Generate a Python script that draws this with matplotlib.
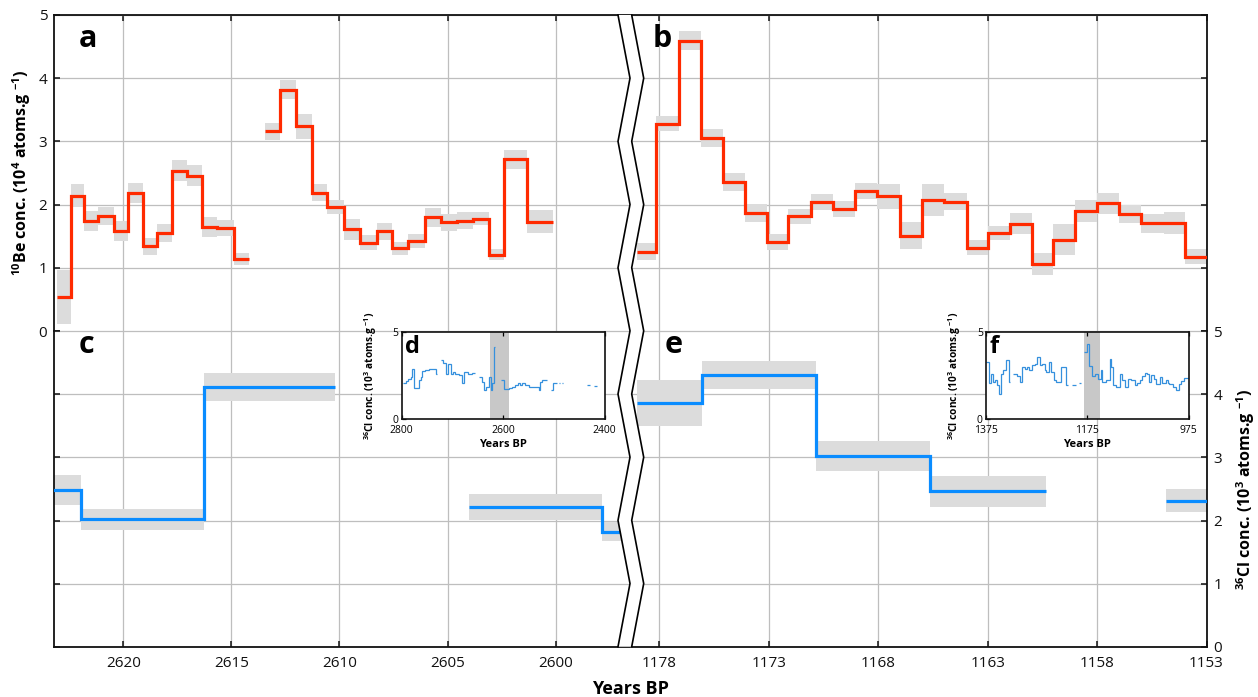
import numpy as np
import matplotlib
matplotlib.use("Agg")
import matplotlib.pyplot as plt
from matplotlib.patches import Polygon

plt.rcParams['font.family'] = ['Open Sans', 'DejaVu Sans']
plt.rcParams['mathtext.fontset'] = 'custom'
plt.rcParams['mathtext.rm'] = 'Open Sans'
plt.rcParams['mathtext.bf'] = 'Open Sans:bold'
plt.rcParams['mathtext.it'] = 'Open Sans:italic'

# ---------------- data ----------------
# panel a: 10Be (10^4 atoms/g), step edges in years BP
a_edges = [2623.08, 2622.44, 2621.83, 2621.15, 2620.42, 2619.78, 2619.10, 2618.44,
           2617.75, 2617.07, 2616.36, 2615.66, 2614.87, 2614.19, 2613.46, 2612.73,
           2612.00, 2611.26, 2610.57, 2609.80, 2609.03, 2608.28, 2607.55, 2606.81,
           2606.04, 2605.31, 2604.58, 2603.81, 2603.06, 2602.38, 2601.32, 2600.13]
a_vals = [0.54, 2.14, 1.74, 1.82, 1.58, 2.19, 1.34, 1.55, 2.54, 2.46, 1.65, 1.63, 1.14,
          np.nan, 3.16, 3.82, 3.24, 2.19, 1.96, 1.61, 1.40, 1.58, 1.31, 1.42, 1.80,
          1.72, 1.75, 1.78, 1.21, 2.72, 1.73]
a_errs = [0.43, 0.18, 0.16, 0.14, 0.16, 0.16, 0.13, 0.14, 0.16, 0.17, 0.16, 0.13, 0.09,
          np.nan, 0.13, 0.15, 0.20, 0.13, 0.11, 0.17, 0.12, 0.13, 0.10, 0.11, 0.15,
          0.13, 0.14, 0.10, 0.09, 0.15, 0.18]

# panel b: 10Be
b_edges = [1179.0, 1178.15, 1177.12, 1176.1, 1175.1, 1174.1, 1173.08, 1172.1, 1171.07,
           1170.05, 1169.06, 1168.06, 1167.01, 1166.01, 1164.98, 1163.96, 1162.97,
           1161.99, 1160.98, 1159.99, 1159.01, 1157.98, 1156.98, 1155.99, 1154.96,
           1153.98, 1152.9]
b_vals = [1.26, 3.28, 4.59, 3.05, 2.36, 1.87, 1.41, 1.82, 2.04, 1.93, 2.22, 2.13, 1.51,
          2.07, 2.05, 1.32, 1.55, 1.70, 1.06, 1.45, 1.90, 2.02, 1.85, 1.71, 1.71, 1.18]
b_errs = [0.14, 0.12, 0.15, 0.14, 0.14, 0.145, 0.13, 0.12, 0.13, 0.13, 0.13, 0.20, 0.21,
          0.25, 0.13, 0.12, 0.11, 0.17, 0.17, 0.25, 0.17, 0.16, 0.14, 0.15, 0.18, 0.12]

# panel c: 36Cl (10^3 atoms/g)
c_edges = [2623.4, 2621.94, 2616.26, 2610.2, 2604.0, 2597.84, 2596.5]
c_vals = [2.48, 2.02, 4.12, np.nan, 2.215, 1.82]
c_errs = [0.24, 0.165, 0.225, np.nan, 0.20, 0.15]

# panel e: 36Cl
e_edges = [1179.0, 1176.06, 1170.85, 1165.64, 1160.33, 1154.87, 1152.5]
e_vals = [3.86, 4.30, 3.02, 2.46, np.nan, 2.315]
e_errs = [0.36, 0.22, 0.24, 0.24, np.nan, 0.18]

# inset d: 36Cl long record
d_edges = [2798.0, 2790.2, 2786.3, 2781.7, 2779.7, 2775.2, 2765.4, 2762.1, 2758.8, 2753.6,
           2745.8, 2732.7, 2729.4, 2722.9, 2718.3, 2711.8, 2708.5, 2703.3, 2698.7, 2694.8,
           2686.9, 2681.7, 2677.1, 2668.6, 2660.8, 2655.6, 2647.7, 2641.2, 2637.9, 2633.3,
           2628.1, 2624.8, 2621.6, 2618.3, 2615.0, 2603.3, 2598.7, 2588.9, 2582.4, 2575.8,
           2570.6, 2566.0, 2562.7, 2557.5, 2549.7, 2530.1, 2526.8, 2523.5, 2513.7, 2505.2,
           2502.0, 2494.1, 2490.8, 2487.6, 2484.3, 2482.4, 2435.3, 2428.8, 2420.3, 2415.7]
d_vals = [2.09, 2.20, 2.32, 2.40, 2.89, 1.79, 2.23, 2.42, 2.75, 2.83,
          2.89, 2.57, np.nan, 3.40, 3.21, 2.60, 3.17, 2.60, 2.70, 2.60,
          2.51, 2.04, 2.70, 2.60, 2.62, np.nan, 2.42, 2.13, 1.66, 1.85,
          2.42, 1.66, 2.04, 4.11, np.nan, 2.23, 1.75, 1.79, 1.85, 1.94,
          2.09, 1.94, 2.09, 1.94, 1.85, 1.66, 2.13, 2.23, np.nan, 1.66,
          2.08, np.nan, 2.08, np.nan, 2.08, np.nan, 1.94, np.nan, 1.89]
d_band = [2625.0, 2588.0]

# inset f: 36Cl long record
f_edges = [1375.0, 1368.5, 1364.5, 1359.9, 1356.7, 1353.4, 1348.8, 1344.9, 1340.3, 1335.7,
           1329.2, 1327.2, 1320.7, 1312.8, 1307.6, 1303.6, 1297.8, 1293.2, 1289.2, 1282.7,
           1278.1, 1273.5, 1268.3, 1263.1, 1258.5, 1255.2, 1250.0, 1245.4, 1240.1, 1235.6,
           1230.3, 1225.7, 1217.2, 1212.6, 1204.1, 1197.6, 1191.0, 1186.5, 1181.9, 1179.0,
           1176.1, 1170.9, 1165.6, 1160.3, 1153.7, 1148.5, 1145.9, 1137.4, 1130.8, 1127.5,
           1124.3, 1119.0, 1111.2, 1106.1, 1101.4, 1094.8, 1088.3, 1081.7, 1077.1, 1071.9,
           1066.6, 1062.1, 1057.5, 1053.6, 1049.0, 1044.4, 1039.2, 1032.6, 1027.4, 1020.8,
           1016.3, 1013.0, 1006.4, 999.9, 994.6, 990.1, 983.5, 975.0]
f_vals = [3.26, 2.09, 2.60, 2.13, 2.23, 1.94, 1.43, 2.60, 2.79, 3.36,
          2.13, np.nan, 2.60, 2.47, 2.13, 2.98, 2.89, 2.98, 2.79, 3.08,
          3.17, 3.55, 3.08, 3.17, 2.79, 2.70, 3.26, 2.70, 2.23, 2.13,
          2.13, 2.98, 1.94, np.nan, 1.94, np.nan, 2.04, np.nan, 3.83, 3.86,
          4.30, 3.02, 2.46, 2.60, 2.32, 2.83, 2.13, 2.23, 3.45, 2.98,
          1.94, 1.85, 2.60, 2.26, 1.85, 2.32, 2.26, 1.94, 2.04, 2.26,
          2.45, 2.64, 2.60, 2.13, 2.51, 2.32, 2.00, 2.42, 2.08, 2.26,
          2.04, 2.00, 1.85, 1.66, 2.00, 2.17, 2.36]
f_band = [1182.0, 1150.5]

left_xticks = [2620, 2615, 2610, 2605, 2600]
right_xticks = [1178, 1173, 1168, 1163, 1158, 1153]
y_ticks = [0, 1, 2, 3, 4, 5]

# ---------------- style ----------------
RED = '#FF2A00'
BLUE = '#0A8CFF'
GRAY = '#DCDCDC'
GRID = '#BEBEBE'
INSET_BLUE = '#3590DD'
BAND = '#C8C8C8'

W, H = 1258, 697
fig = plt.figure(figsize=(W / 100, H / 100), dpi=100)


def fx(px):
    return px / W


def fy(py):
    return 1 - py / H


xl0, xl1 = 54.3, 630.0
xr0, xr1 = 631.7, 1206.5
yt, ym, yb = 15.0, 331.2, 646.7

axA = fig.add_axes([fx(xl0), fy(ym), fx(xl1) - fx(xl0), fy(yt) - fy(ym)])
axC = fig.add_axes([fx(xl0), fy(yb), fx(xl1) - fx(xl0), fy(ym) - fy(yb)])
axB = fig.add_axes([fx(xr0), fy(ym), fx(xr1) - fx(xr0), fy(yt) - fy(ym)])
axE = fig.add_axes([fx(xr0), fy(yb), fx(xr1) - fx(xr0), fy(ym) - fy(yb)])


def draw_series(ax, edges, vals, errs, color):
    e = np.asarray(edges, float)
    v = np.asarray(vals, float)
    s = np.asarray(errs, float)
    lo = np.minimum(e[:-1], e[1:])
    w = np.abs(np.diff(e))
    ok = ~np.isnan(v)
    ax.bar(lo[ok], 2 * s[ok], width=w[ok], bottom=v[ok] - s[ok], align='edge',
           color=GRAY, linewidth=0, zorder=2)
    ax.stairs(v[::-1], e[::-1], baseline=None, color=color, linewidth=2.3, zorder=3)


draw_series(axA, a_edges, a_vals, a_errs, RED)
draw_series(axC, c_edges, c_vals, c_errs, BLUE)
draw_series(axB, b_edges, b_vals, b_errs, RED)
draw_series(axE, e_edges, e_vals, e_errs, BLUE)

for ax in (axA, axC):
    ax.set_xlim(2623.19, 2596.56)
    ax.set_xticks(left_xticks)
for ax in (axB, axE):
    ax.set_xlim(1179.26, 1153.0)
    ax.set_xticks(right_xticks)

for ax in (axA, axB, axC, axE):
    ax.set_ylim(0, 5)
    ax.set_yticks(y_ticks)
    ax.set_axisbelow(True)
    ax.grid(True, color=GRID, linewidth=0.9)
    for sp in ax.spines.values():
        sp.set_linewidth(1.3)
        sp.set_color('#111111')
    ax.tick_params(direction='in', length=4, width=1.1, labelsize=11, pad=5,
                   colors='#111111')
    ax.tick_params(axis='x', pad=6.5)

# panel a
axA.spines['bottom'].set_visible(False)
axA.spines['right'].set_visible(False)
axA.tick_params(top=True, bottom=False, labeltop=False, labelbottom=False,
                left=True, right=False, labelleft=True)
# panel c
axC.spines['top'].set_visible(False)
axC.spines['right'].set_visible(False)
axC.tick_params(top=False, bottom=True, labelbottom=True, left=True, right=False,
                labelleft=False)
# panel b
axB.spines['bottom'].set_visible(False)
axB.spines['left'].set_visible(False)
axB.tick_params(top=True, bottom=False, labeltop=False, labelbottom=False,
                left=False, right=True, labelleft=False, labelright=False)
# panel e
axE.spines['top'].set_visible(False)
axE.spines['left'].set_visible(False)
axE.tick_params(top=False, bottom=True, labelbottom=True, left=False, right=True,
                labelleft=False, labelright=True)

# axis titles
fig.text(fx(22), fy(173), r"$^{\mathbf{10}}$Be conc. (10$^{\mathbf{4}}$ atoms.g $^{\mathbf{-1}}$)",
         rotation=90, ha='center', va='center', fontsize=11.5, fontweight='bold')
fig.text(fx(1246), fy(489), r"$^{\mathbf{36}}$Cl conc. (10$^{\mathbf{3}}$ atoms.g $^{\mathbf{-1}}$)",
         rotation=90, ha='center', va='center', fontsize=11.5, fontweight='bold')
fig.text(fx(630), fy(689), "Years BP", ha='center', va='center', fontsize=13,
         fontweight='bold')

# panel letters
for lab, px, py in [('a', 79, 46.7), ('b', 652.5, 46.7), ('c', 79, 353.3),
                    ('e', 665, 353.3)]:
    fig.text(fx(px), fy(py), lab, ha='left', va='baseline', fontsize=22,
             fontweight='bold')


# ---------------- insets ----------------
def make_inset(x0px, edges, vals, band, xlim, xticks, letter):
    ax = fig.add_axes([fx(x0px), fy(419.3), 203.2 / W, (419.3 - 331.5) / H])
    ax.set_zorder(6)
    ax.set_facecolor('white')
    ax.axvspan(band[0], band[1], color=BAND, linewidth=0, zorder=1)
    e = np.asarray(edges, float)
    v = np.asarray(vals, float)
    ax.stairs(v[::-1], e[::-1], baseline=None, color=INSET_BLUE, linewidth=0.9, zorder=2)
    ax.set_xlim(*xlim)
    ax.set_ylim(0, 5)
    ax.set_xticks(xticks)
    ax.set_yticks([0, 5])
    for sp in ax.spines.values():
        sp.set_linewidth(1.2)
        sp.set_color('#111111')
    ax.tick_params(direction='in', length=3, width=0.9, labelsize=7.5,
                   top=True, right=False)
    ax.tick_params(axis='x', pad=4)
    ax.tick_params(axis='y', pad=2)
    ax.set_xlabel("Years BP", fontsize=8, fontweight='bold', labelpad=2)
    ax.set_ylabel(r"$^{\mathbf{36}}$Cl conc. (10$^{\mathbf{3}}$ atoms.g $^{\mathbf{-1}}$)",
                  fontsize=7.3, fontweight='bold')
    ax.yaxis.set_label_coords(-0.11, 0.5)
    ax.text(0.018, 0.755, letter, transform=ax.transAxes, ha='left', va='baseline',
            fontsize=17, fontweight='bold', zorder=5)
    return ax


axD = make_inset(401.5, d_edges, d_vals, d_band, (2800, 2400), [2800, 2600, 2400], 'd')
axF = make_inset(985.6, f_edges, f_vals, f_band, (1375, 975), [1375, 1175, 975], 'f')

# ---------------- axis break (zigzag) ----------------
ov = fig.add_axes([0, 0, 1, 1])
ov.set_xlim(0, W)
ov.set_ylim(H, 0)
ov.axis('off')
ov.patch.set_alpha(0)
ov.set_zorder(10)
ks = np.arange(11)
zy = yt + ks * (yb - yt) / 10.0
zx_left = np.where(ks % 2 == 0, 618.0, 630.0)
zx_right = zx_left + 13.7
band_pts = np.column_stack([np.concatenate([zx_left, zx_right[::-1]]),
                            np.concatenate([zy, zy[::-1]])])
ov.add_patch(Polygon(band_pts, closed=True, facecolor='white', edgecolor='none'))
ov.plot(zx_left, zy, color='black', linewidth=1.2, solid_joinstyle='miter')
ov.plot(zx_right, zy, color='black', linewidth=1.2, solid_joinstyle='miter')

fig.savefig('out.png', dpi=100)
